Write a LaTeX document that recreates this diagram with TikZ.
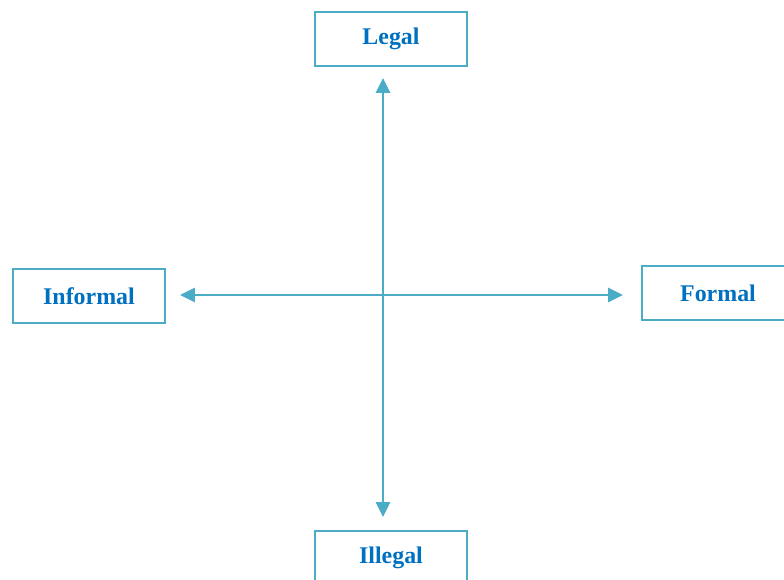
\documentclass[tikz,border=0pt]{standalone}
\usepackage{fontspec}
\setmainfont{Liberation Serif}
\usetikzlibrary{arrows.meta}
\definecolor{axisteal}{HTML}{4BACC6}
\definecolor{labelblue}{HTML}{0070C0}
\tikzset{
	quadbox/.style={draw=axisteal, line width=1.6pt, fill=white, minimum width=3.8cm, minimum height=1.35cm, inner sep=0pt, text=labelblue, font=\fontsize{17}{20}\selectfont\bfseries},
	axisline/.style={draw=axisteal, line width=1.5pt, {Triangle[length=10.5pt,width=10pt]}-{Triangle[length=10.5pt,width=10pt]}}
}

\begin{document}
\begin{tikzpicture}
		%%%%% START %%%%%
		\clip (0, 0) rectangle (19.6, 14.5);
		
		\node[quadbox] (legal) at (9.775, 13.525) {Legal};
		\node[quadbox] (illegal) at (9.775, 0.55) {Illegal};
		\node[quadbox] (informal) at (2.225, 7.1) {Informal};
		\node[quadbox] (formal) at (17.95, 7.175) {Formal};
		
		\coordinate (vtop) at (9.575, 12.55);
		\coordinate (vbot) at (9.575, 1.575);
		\coordinate (hleft) at (4.5, 7.125);
		\coordinate (hright) at (15.575, 7.125);
		
		\draw[axisline] (vtop) -- (vbot);
		\draw[axisline] (hleft) -- (hright);
		%%%%% END %%%%%
\end{tikzpicture}
\end{document}
